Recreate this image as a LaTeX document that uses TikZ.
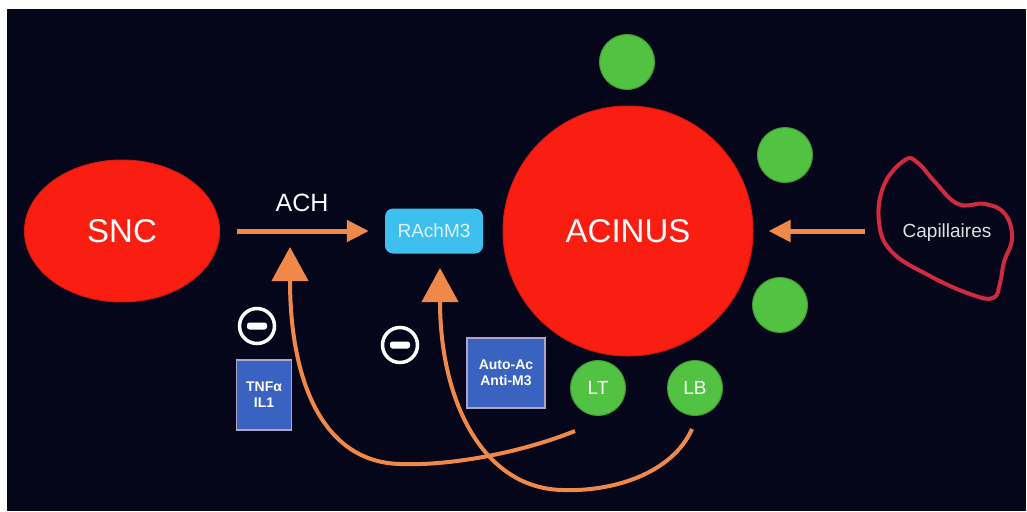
\documentclass[tikz,border=0pt]{standalone}
\usepackage{fontspec}
\setmainfont{Liberation Sans}
\usetikzlibrary{shapes.geometric,arrows.meta}
\definecolor{bg}{HTML}{06061A}
\definecolor{cellred}{HTML}{FA1E12}
\definecolor{cellgreen}{HTML}{52C242}
\definecolor{arrowor}{HTML}{F0884A}
\definecolor{recep}{HTML}{3EC0EE}
\definecolor{receptext}{HTML}{DDF3FF}
\definecolor{boxblue}{HTML}{3A62C0}
\definecolor{boxedge}{HTML}{B4A4C4}
\definecolor{capred}{HTML}{D02A40}
\begin{document}
\begin{tikzpicture}[x=1pt,y=-1pt,
  cell/.style={fill=cellred, draw=cellred!85!black, line width=1pt, text=white, inner sep=0pt},
  lymph/.style={circle, fill=cellgreen, draw=cellgreen!80!black, line width=1pt, minimum size=55pt, inner sep=0pt, text=white, font=\fontsize{19}{19}\selectfont},
  flow/.style={draw=arrowor, line width=5pt, -{Triangle[length=22pt,width=21pt]}},
  curveflow/.style={draw=arrowor, line width=4pt, -{Triangle[length=34pt,width=36pt]}},
  agent/.style={rectangle, fill=boxblue, draw=boxedge, line width=1.5pt, text=white, font=\bfseries\fontsize{14}{16}\selectfont, align=center, inner sep=0pt},
  minus/.style={circle, draw=white, line width=3.5pt, fill=bg, minimum size=35pt, inner sep=0pt,
    path picture={\fill[white, rounded corners=2.5pt]
      ([xshift=-10pt,yshift=-3.5pt]path picture bounding box.center) rectangle
      ([xshift=10pt,yshift=3.5pt]path picture bounding box.center);}}
]
% background
\fill[white] (0,0) rectangle (1027,511);
\fill[bg] (7,9) rectangle (1026,511);
\useasboundingbox (0,0) rectangle (1027,511);

% cells
\node[cell, ellipse, minimum width=195pt, minimum height=142pt, font=\fontsize{33}{33}\selectfont] (snc) at (122,231) {SNC};
\node[cell, circle, minimum size=250pt, font=\fontsize{33}{33}\selectfont] (acinus) at (628,231) {ACINUS};

% receptor
\node[rectangle, rounded corners=8pt, fill=recep, minimum width=98pt, minimum height=45pt, inner sep=0pt, text=receptext, font=\fontsize{19}{19}\selectfont] (rachm3) at (434,231) {RAchM3};

% green cells
\node[lymph] (g1) at (627,62) {};
\node[lymph] (g2) at (785,155) {};
\node[lymph] (g3) at (780,305) {};
\node[lymph] (lt) at (598,388) {LT};
\node[lymph] (lb) at (695,388) {LB};

% capillaries
\draw[capred, line width=4pt] plot[smooth cycle, tension=0.7] coordinates {
  (905,160) (918,163) (935,182) (958,204) (985,204) (1005,214) (1012,238)
  (1004,262) (1000,283) (993,298) (970,294) (930,276) (892,252) (879,222) (884,185)};
\node[text=white!88!black, font=\fontsize{19}{19}\selectfont] (cap) at (947,233) {Capillaires};
\coordinate (capout) at (865,231);

% ACH arrow
\node[text=white, font=\fontsize{25}{25}\selectfont] (ach) at (302,203) {ACH};
\draw[flow, shorten <=17pt, shorten >=16pt] (snc.east) -- (rachm3.west);
\draw[flow, shorten >=15pt] (capout) -- (acinus.east);

% agents
\node[agent, minimum width=55pt, minimum height=70pt] (tnf) at (264,395) {TNFα\\IL1};
\node[agent, minimum width=78pt, minimum height=70pt] (auto) at (506,373) {Auto-Ac\\Anti-M3};

% inhibition signs
\node[minus] (m1) at (257,326) {};
\node[minus] (m2) at (400,345) {};

% curved feedback arrows
\coordinate (ltout) at (575,431);
\coordinate (lbout) at (692,429);
\coordinate (achtarget) at (290,247);
\coordinate (rtarget) at (440,268);
\draw[curveflow] (ltout) .. controls (520,453) and (450,466) .. (400,464)
  .. controls (322,462) and (290,380) .. (achtarget);
\draw[curveflow] (lbout) .. controls (672,474) and (612,492) .. (562,490)
  .. controls (482,488) and (440,400) .. (rtarget);
\end{tikzpicture}
\end{document}
